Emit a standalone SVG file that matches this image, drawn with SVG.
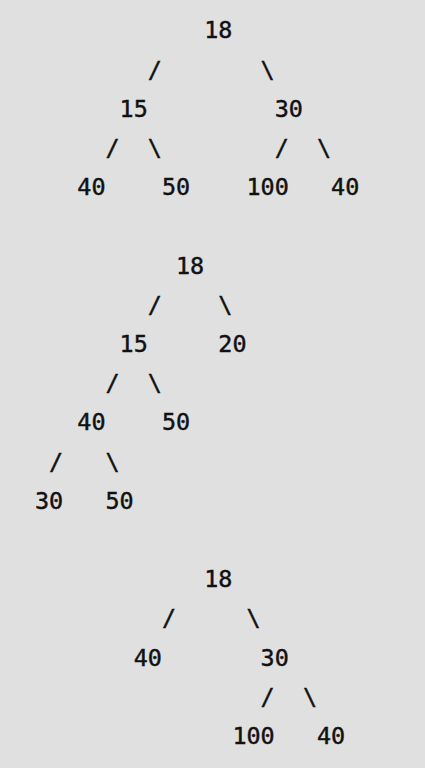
<svg xmlns="http://www.w3.org/2000/svg" width="425" height="768" viewBox="0 0 425 768">
<style>
text { font-family: "DejaVu Sans Mono", "Liberation Mono", monospace; font-size: 23.42px; fill: #111111; stroke: #111111; stroke-width: 0.45px; }
</style>
<rect width="425" height="768" fill="#e0e0e0"/>
<g transform="translate(1,0)">
<g id="tree1">
<g id="t1-n18"><text x="203.2" y="38.3">18</text></g>
<g id="t1-n15"><text x="118.6" y="116.7">15</text></g>
<g id="t1-n30"><text x="273.7" y="116.7">30</text></g>
<g id="t1-n40a"><text x="76.3" y="195.1">40</text></g>
<g id="t1-n50"><text x="160.9" y="195.1">50</text></g>
<g id="t1-n100"><text x="245.5" y="195.1">100</text></g>
<g id="t1-n40b"><text x="330.1" y="195.1">40</text></g>
</g>
<g id="tree2">
<g id="t2-n18"><text x="175" y="273.5">18</text></g>
<g id="t2-n15"><text x="118.6" y="351.9">15</text></g>
<g id="t2-n20"><text x="217.3" y="351.9">20</text></g>
<g id="t2-n40"><text x="76.3" y="430.3">40</text></g>
<g id="t2-n50a"><text x="160.9" y="430.3">50</text></g>
<g id="t2-n30"><text x="34" y="508.7">30</text></g>
<g id="t2-n50b"><text x="104.5" y="508.7">50</text></g>
</g>
<g id="tree3">
<g id="t3-n18"><text x="203.2" y="587.1">18</text></g>
<g id="t3-n40a"><text x="132.7" y="665.5">40</text></g>
<g id="t3-n30"><text x="259.6" y="665.5">30</text></g>
<g id="t3-n100"><text x="231.4" y="743.9">100</text></g>
<g id="t3-n40b"><text x="316" y="743.9">40</text></g>
</g>
<g id="connectors">
<text x="146.8" y="77.5">/</text>
<text x="259.6" y="77.5">\</text>
<text x="104.5" y="155.9">/</text>
<text x="146.8" y="155.9">\</text>
<text x="273.7" y="155.9">/</text>
<text x="316" y="155.9">\</text>
<text x="146.8" y="312.7">/</text>
<text x="217.3" y="312.7">\</text>
<text x="104.5" y="391.1">/</text>
<text x="146.8" y="391.1">\</text>
<text x="48.1" y="469.5">/</text>
<text x="104.5" y="469.5">\</text>
<text x="160.9" y="626.3">/</text>
<text x="245.5" y="626.3">\</text>
<text x="259.6" y="704.7">/</text>
<text x="301.9" y="704.7">\</text>
</g>
</g>
</svg>
